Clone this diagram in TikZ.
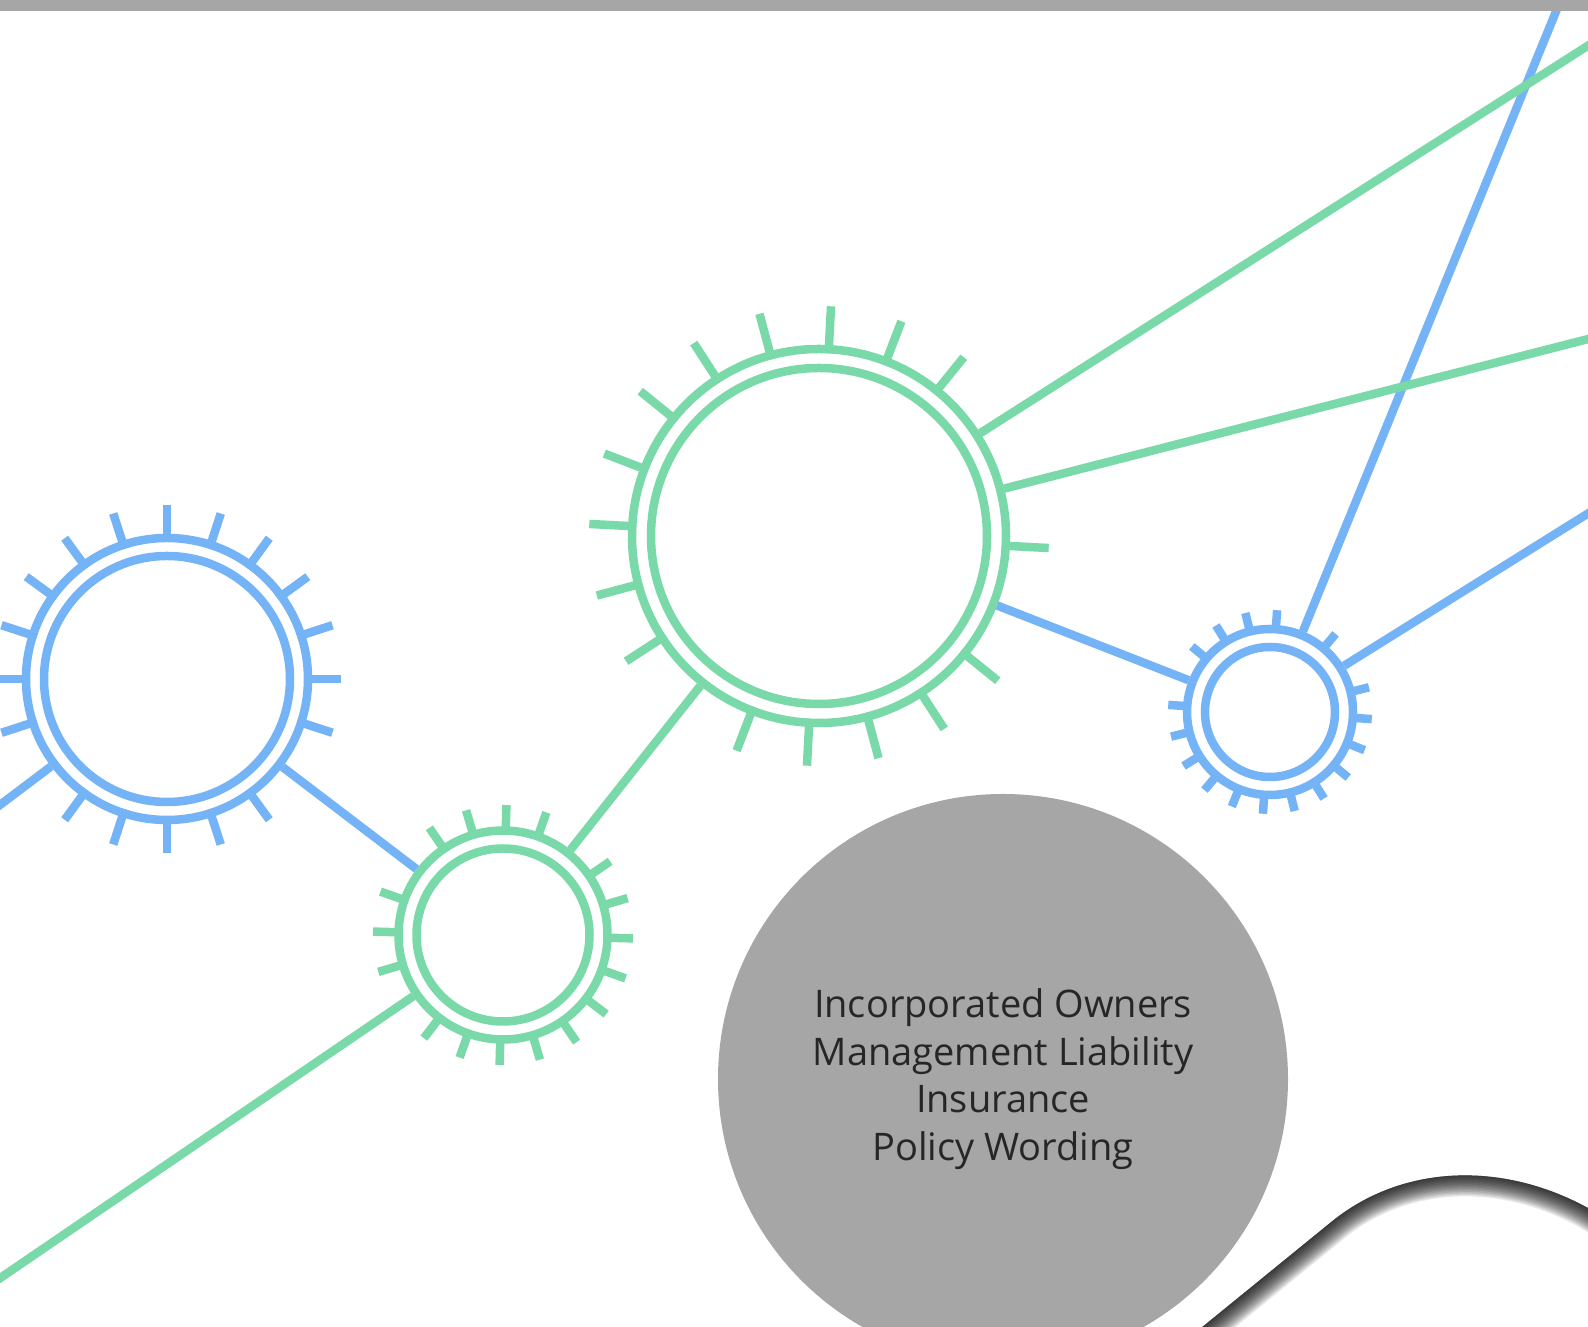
\documentclass[tikz,border=0pt]{standalone}
\usepackage{fontspec}
\setmainfont{Open Sans}
\usetikzlibrary{positioning}

\definecolor{gearblue}{RGB}{116,179,245}
\definecolor{geargreen}{RGB}{122,217,168}
\definecolor{discgray}{RGB}{166,166,166}
\definecolor{titletext}{RGB}{38,38,40}

\begin{document}
\begin{tikzpicture}[
    x=1pt, y=1pt,
    bluegear/.style={circle, draw=gearblue, line width=8.5pt, inner sep=0pt},
    greengear/.style={circle, draw=geargreen, line width=8.5pt, inner sep=0pt},
    bluelink/.style={draw=gearblue, line width=8.5pt},
    greenlink/.style={draw=geargreen, line width=8.5pt},
    disc/.style={circle, fill=discgray, minimum size=570pt, inner sep=0pt, text=titletext, align=center, font=\fontsize{38}{47.6}\selectfont},
    edgeshade/.style={draw=black, opacity=0.095}
]
    \useasboundingbox (0,0) rectangle (1588,1327);
    \fill[white] (0,0) rectangle (1588,1327);
    \clip (0,0) rectangle (1588,1327);

    % Title disc
    \node[disc] (title) at (1003,248) {Incorporated Owners\\Management Liability\\Insurance\\Policy Wording};

    % Gears
    \node[bluegear, minimum size=282pt] (gBL) at (167,648) {};
    \node[greengear, minimum size=209pt] (gSG) at (503,392) {};
    \node[greengear, minimum size=374pt] (gBG) at (819,791) {};
    \node[bluegear, minimum size=166pt] (gSB) at (1270,615) {};

    % Inner rings
    \draw[bluelink] (gBL.center) circle[radius=123];
    \draw[greenlink] (gSG.center) circle[radius=86.5];
    \draw[greenlink] (gBG.center) circle[radius=168];
    \draw[bluelink] (gSB.center) circle[radius=65];

    % Teeth
    \foreach \a in {0,18,...,198,234,252,270,288,306,342}
        \draw[bluelink] (gBL.center) ++(\a:137) -- ++(\a:37);
    \foreach \a in {-1.5,16.5,34.5,70.5,88.5,106.5,124.5,160.5,178.5,196.5,232.5,250.5,268.5,286.5,304.5,322.5,340.5}
        \draw[greenlink] (gSG.center) ++(\a:101) -- ++(\a:29);
    \foreach \a in {-3,51,69,87,105,123,141,159,177,195,213,249,267,285,303,321}
        \draw[greenlink] (gBG.center) ++(\a:183) -- ++(\a:47);
    \foreach \a in {-4,14,50,86,104,122,140,176,194,212,230,248,266,284,302,320,338}
        \draw[bluelink] (gSB.center) ++(\a:80) -- ++(\a:22);

    % Ends off the page
    \coordinate (eBL) at (-10,514.5);
    \coordinate (eGL) at (-10,42);
    \coordinate (eGT) at (1600,1289);
    \coordinate (eGR) at (1600,991);
    \coordinate (eBT) at (1566,1340);
    \coordinate (eBR) at (1600,821);

    % Connections
    \draw[bluelink] (eBL) -- (gBL);
    \draw[bluelink] (gBL) -- (gSG);
    \draw[greenlink] (eGL) -- (gSG);
    \draw[greenlink] (gSG) -- (gBG);
    \draw[bluelink] (gBG) -- (gSB);
    \draw[bluelink] (gSB) -- (eBT);
    \draw[bluelink] (gSB) -- (eBR);
    \draw[greenlink] (gBG) -- (eGT);
    \draw[greenlink] (gBG) -- (eGR);

    % Page corner
    \begin{scope}
        \clip (1190,-10) -- (1330,104) .. controls (1400,162) and (1500,167) .. (1588,119) -- (1600,112) -- (1600,-10) -- cycle;
        \foreach \w in {3,6,...,42}
            \draw[edgeshade, line width=\w pt] (1190,-10) -- (1330,104) .. controls (1400,162) and (1500,167) .. (1588,119) -- (1600,112);
    \end{scope}

    % Top band
    \fill[discgray] (0,1316) rectangle (1588,1327);
\end{tikzpicture}
\end{document}
